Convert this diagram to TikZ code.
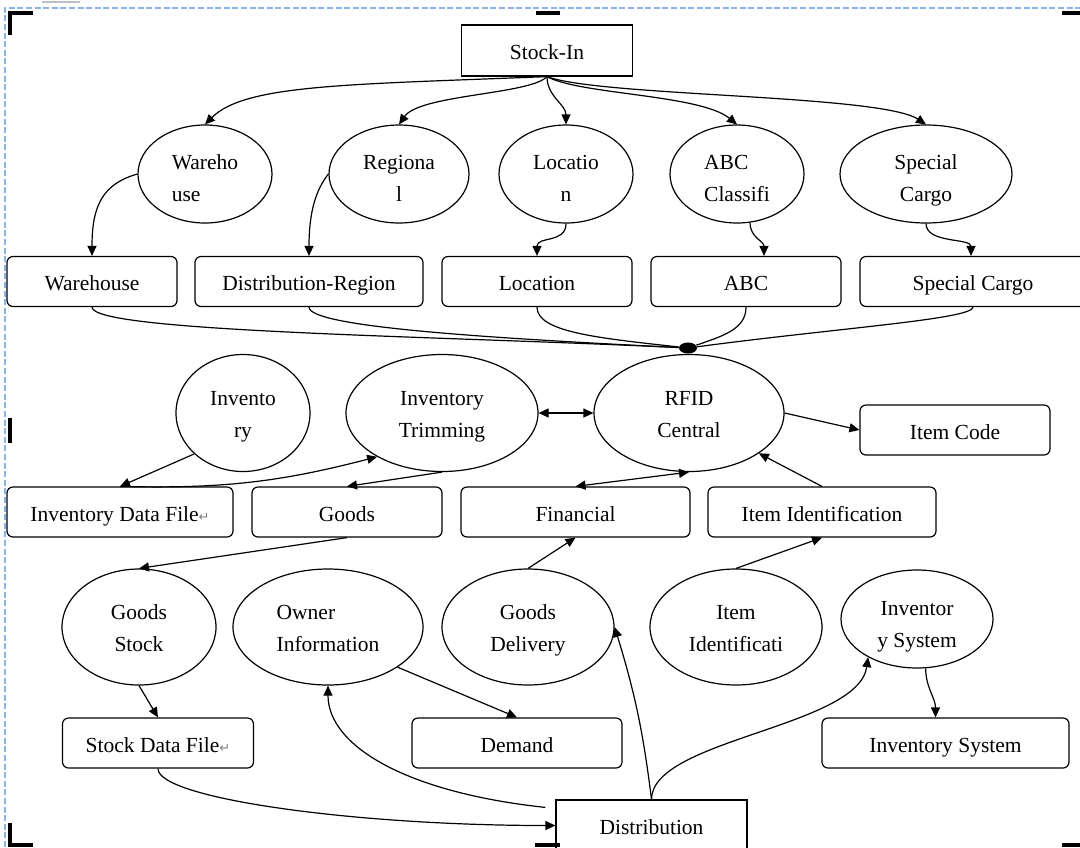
\documentclass[tikz,border=0pt]{standalone}
\usepackage{fontspec}
\setmainfont{Liberation Serif}
\newfontfamily\symfont{DejaVu Sans}
\usetikzlibrary{arrows.meta, shapes.geometric}
\definecolor{frameblue}{RGB}{140,180,235}
\newcommand{\retmark}{{\symfont\fontsize{6.5}{8}\selectfont\color{gray}↵}}

\begin{document}
\begin{tikzpicture}[x=0.5pt, y=0.5pt,
    box/.style={rectangle, draw, line width=0.6pt, minimum height=25pt, inner sep=2pt, text height=9.5pt, text depth=0.5pt, font=\fontsize{10.75}{16}\selectfont},
    store/.style={box, rounded corners=3pt},
    bubble/.style={ellipse, draw, line width=0.6pt, inner sep=0pt, align=center, text height=26pt, text depth=2pt, font=\fontsize{10.75}{16}\selectfont},
    flow/.style={-{Triangle[length=5pt,width=4.5pt]}, line width=0.6pt},
    twoway/.style={{Triangle[length=5pt,width=4.5pt]}-{Triangle[length=5pt,width=4.5pt]}, line width=0.6pt},
    link/.style={line width=0.6pt},
    crop/.style={line width=2pt},
    pagefrm/.style={draw=frameblue, dash pattern=on 3pt off 1.3pt, line width=0.6pt}]
\useasboundingbox (0,0) rectangle (1080,-847);
% page frame and crop marks
\draw[pagefrm] (5,-847) -- (5,-8) -- (1080,-8);
\draw[gray!50, line width=1pt] (42,-2) -- (80,-2);
\draw[crop] (33,-13) -- (9.5,-13) -- (9.5,-35);
\draw[crop] (536,-13) -- (560,-13);
\draw[crop] (1062,-13) -- (1080,-13);
\draw[crop] (9.5,-418) -- (9.5,-443);
\draw[crop] (9.5,-823) -- (9.5,-845) -- (33,-845);
\draw[crop] (535,-845) -- (560,-845);
\draw[crop] (1062,-845) -- (1080,-845);

\node[box, minimum width=85.5pt, minimum height=25.5pt] (stockin) at (547,-50.5) {Stock-In};
% first row
\node[bubble, text height=29pt, align=left, minimum width=67pt, minimum height=49pt] (whell) at (205,-174) {Wareho\\use};
\node[bubble, text height=29pt, minimum width=70pt, minimum height=49pt] (regell) at (399,-174) {Regiona\\l};
\node[bubble, text height=29pt, minimum width=67pt, minimum height=49pt] (locell) at (566,-174) {Locatio\\n};
\node[bubble, text height=29pt, align=left, minimum width=67pt, minimum height=49pt] (abcell) at (737,-174) {ABC\\Classifi};
\node[bubble, text height=29pt, minimum width=86pt, minimum height=49pt] (scell) at (926,-174) {Special\\Cargo};
\node[store, minimum width=85pt] (whbox) at (92,-281.5) {Warehouse};
\node[store, minimum width=114pt] (drbox) at (309,-281.5) {Distribution-Region};
\node[store, minimum width=95pt] (locbox) at (537,-281.5) {Location};
\node[store, minimum width=95pt] (abcbox) at (746,-281.5) {ABC};
\node[store, minimum width=113pt] (scbox) at (973,-281.5) {Special Cargo};
\node[ellipse, fill, inner sep=0pt, minimum width=9pt, minimum height=5.5pt] (hub) at (688,-348) {};
% second row
\node[bubble, minimum width=67pt, minimum height=58.5pt] (invell) at (243,-413) {Invento\\ry};
\node[bubble, minimum width=96pt, minimum height=58.5pt] (trimell) at (442,-413) {Inventory\\Trimming};
\node[bubble, minimum width=95pt, minimum height=58.5pt] (rfid) at (689,-413) {RFID\\Central};
\node[store, minimum width=95pt] (itemcode) at (955,-430) {Item Code};
\node[store, minimum width=113pt] (invfile) at (120,-512) {Inventory Data File\retmark};
\node[store, minimum width=95pt] (goods) at (347,-512) {Goods};
\node[store, minimum width=114.5pt] (fin) at (575.5,-512) {Financial};
\node[store, minimum width=114pt] (itemid) at (822,-512) {Item Identification};
% third row
\node[bubble, minimum width=77pt, minimum height=58pt] (gsell) at (139,-627) {Goods\\Stock};
\node[bubble, align=left, minimum width=95pt, minimum height=58pt] (ownell) at (328,-627) {Owner\\Information};
\node[bubble, minimum width=86pt, minimum height=58pt] (gdell) at (528,-627) {Goods\\Delivery};
\node[bubble, minimum width=86pt, minimum height=58pt] (iiell) at (736,-627) {Item\\Identificati};
\node[bubble, text height=30pt, minimum width=76pt, minimum height=49pt] (isell) at (917,-619) {Inventor\\y System};
\node[store, minimum width=95.5pt] (stockfile) at (158,-743) {Stock Data File\retmark};
\node[store, minimum width=105pt] (demand) at (517,-743) {Demand};
\node[store, minimum width=123.5pt] (invsys) at (945.5,-743) {Inventory System};
\node[box, minimum width=95.5pt, minimum height=25.5pt] (dist) at (651.5,-825.5) {Distribution};

% stock-in fan
\draw[flow] (stockin.south) .. controls +(-200,-8) and +(40,40) .. (whell.north);
\draw[flow] (stockin.south) .. controls +(-17,-18) and +(21,30) .. (regell.north);
\draw[flow] (stockin.south) .. controls +(0,-20) and +(0,20) .. (locell.north);
\draw[flow] (stockin.south) .. controls +(33,-18) and +(-37,30) .. (abcell.north);
\draw[flow] (stockin.south) .. controls +(53,-20) and +(-46,30) .. (scell.north);
\draw[flow] (whell.west) .. controls +(-35,-10) and +(0,50) .. (whbox.north);
\draw[flow] (regell.west) .. controls +(-12,-15) and +(0,45) .. (drbox.north);
\draw[flow] (locell.south) .. controls +(0,-20) and +(0,20) .. (locbox.north);
\draw[flow] (abcell.-75) .. controls +(0,-15) and +(0,15) .. ([xshift=9pt]abcbox.north);
\draw[flow] (scell.south) .. controls +(0,-20) and +(0,18) .. ([xshift=-1pt]scbox.north);
% into the hub
\draw[link] (whbox.south) .. controls +(0,-25) and +(-250,12) .. (hub);
\draw[link] (drbox.south) .. controls +(0,-20) and +(-200,10) .. (hub);
\draw[link] (locbox.south) .. controls +(0,-25) and +(-90,10) .. (hub);
\draw[link] (abcbox.south) .. controls +(0,-22) and +(35,12) .. (hub);
\draw[link] (scbox.south) .. controls +(0,-12) and +(150,20) .. (hub);
% middle
\draw[twoway] (trimell.east) -- (rfid.west);
\draw[flow] (rfid.east) -- (itemcode.west);
\draw[flow] (invell.220) -- (invfile.north);
\draw[flow] (invfile.north) to[bend right=8] (trimell.214);
\draw[flow] (trimell.south) -- (goods.north);
\draw[twoway] (fin.north) -- (rfid.south);
\draw[flow] (itemid.north) -- (rfid.-30);
\draw[flow] (goods.south) -- (gsell.north);
\draw[flow] (gdell.north) -- (fin.south);
\draw[flow] (iiell.north) -- (itemid.south);
% bottom
\draw[flow] (gsell.south) -- (stockfile.north);
\draw[flow] (ownell.-30) -- (demand.north);
\draw[flow] (stockfile.south) .. controls +(0,-30) and +(-200,0) .. (dist.west);
\draw[flow] ([xshift=-5pt,yshift=-4pt]dist.north west) .. controls +(-140,15) and +(0,-60) .. (ownell.south);
\draw[flow] (dist.north) to[bend right=5] (gdell.east);
\draw[flow] (dist.north) .. controls +(0,60) and +(-10,-70) .. (isell.218);
\draw[flow] (isell.-80) to[out=-90,in=90] ([xshift=-5pt]invsys.north);
\end{tikzpicture}
\end{document}
